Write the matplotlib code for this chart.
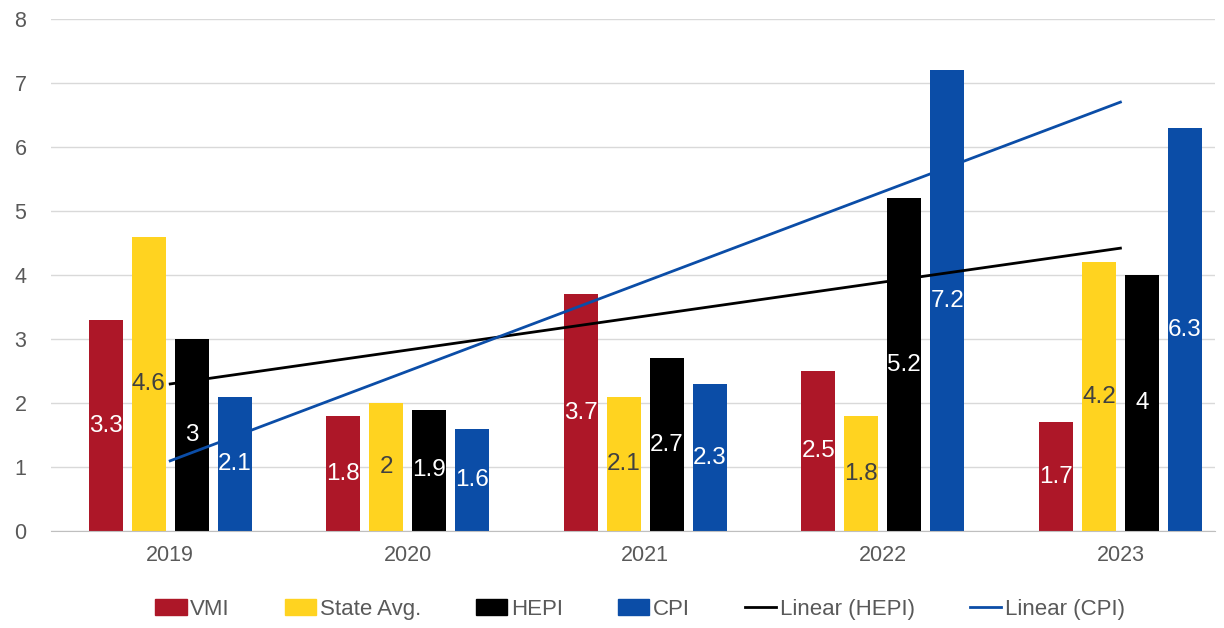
import numpy as np
import matplotlib.pyplot as plt
from matplotlib.patches import Patch
from matplotlib.lines import Line2D

years = ["2019", "2020", "2021", "2022", "2023"]
vmi = [3.3, 1.8, 3.7, 2.5, 1.7]
state_avg = [4.6, 2.0, 2.1, 1.8, 4.2]
hepi = [3.0, 1.9, 2.7, 5.2, 4.0]
cpi = [2.1, 1.6, 2.3, 7.2, 6.3]

series = [
    ("VMI", vmi, "#AD1728", "white"),
    ("State Avg.", state_avg, "#FFD320", "#404040"),
    ("HEPI", hepi, "#000000", "white"),
    ("CPI", cpi, "#0B4DA7", "white"),
]

plt.rcParams['font.family'] = ['Liberation Sans', 'DejaVu Sans']

fig = plt.figure(figsize=(12.24, 6.28), dpi=100)
ax = fig.add_axes([0.042, 0.154, 0.951, 0.816])

x = np.arange(len(years))
width = 0.143
step = 0.181
offsets = [-1.5, -0.5, 0.5, 1.5]

for (name, vals, color, tcolor), off in zip(series, offsets):
    bars = ax.bar(x + off * step, vals, width, color=color, zorder=2)
    for b, v in zip(bars, vals):
        label = f"{v:g}"
        ax.text(b.get_x() + b.get_width() / 2, v / 2, label, ha="center", va="center",
                color=tcolor, fontsize=17.5, zorder=4)

# linear trend lines
for vals, color in [(hepi, "#000000"), (cpi, "#0B4DA7")]:
    k, b0 = np.polyfit(x, vals, 1)
    ax.plot(x, k * x + b0, color=color, lw=2, zorder=3)

ax.set_xlim(-0.5, 4.4)
ax.set_ylim(0, 8)
ax.set_yticks(range(0, 9))
ax.set_xticks(x)
ax.set_xticklabels(years)
ax.tick_params(axis="both", length=0, labelsize=15.5, colors="#595959", pad=10)
ax.tick_params(axis="y", pad=18)
ax.grid(axis="y", color="#D9D9D9", lw=1, zorder=0)
for s in ["top", "right", "left"]:
    ax.spines[s].set_visible(False)
ax.spines["bottom"].set_color("#BFBFBF")

handles = [Patch(color=c) for _, _, c, _ in series]
handles += [Line2D([0], [0], color="#000000", lw=2), Line2D([0], [0], color="#0B4DA7", lw=2)]
labels = [s[0] for s in series] + ["Linear (HEPI)", "Linear (CPI)"]
leg = fig.legend(handles, labels, loc="center", bbox_to_anchor=(0.523, 0.03), ncol=6,
                 frameon=False, fontsize=16, handlelength=1.4, handletextpad=0.15,
                 columnspacing=2.5)
for t in leg.get_texts():
    t.set_color("#595959")

fig.savefig("out.png", dpi=100)
